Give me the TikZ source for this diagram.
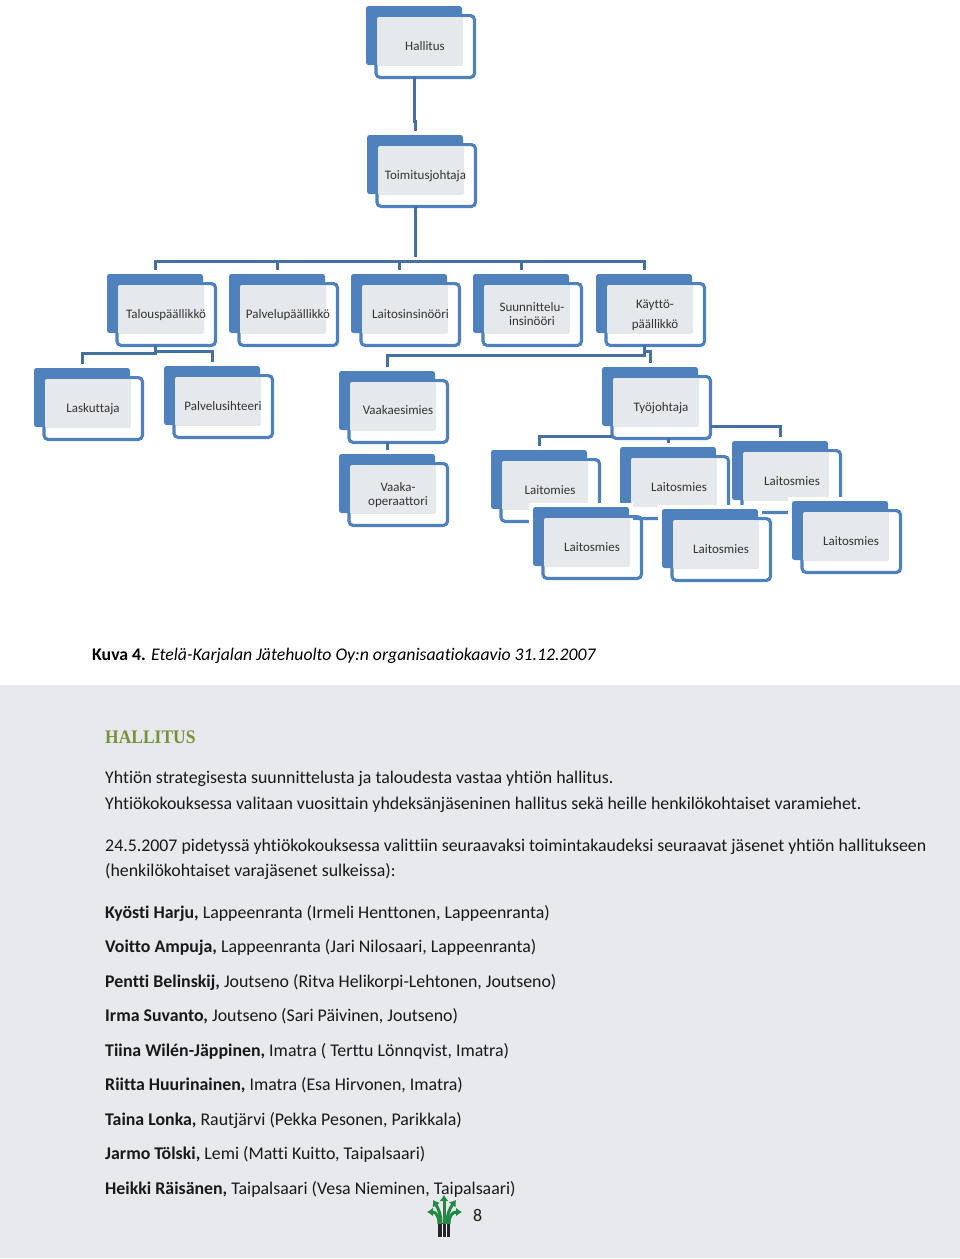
\documentclass[tikz,border=0pt]{standalone}
\usepackage{fontspec}
\setmainfont[Ligatures=NoCommon]{Carlito}
\newfontfamily\headfont[FakeStretch=0.91]{Liberation Serif}
\definecolor{boxblue}{HTML}{4F81BD}
\definecolor{linkblue}{HTML}{44719F}
\definecolor{boxgrey}{HTML}{E6E9EC}
\definecolor{bandgrey}{HTML}{E7E9EC}
\definecolor{headgreen}{HTML}{76923C}
\definecolor{logogreen}{HTML}{1E8A45}
\tikzset{
  boxback/.style={fill=boxblue, rounded corners=2.5pt, minimum width=96pt, minimum height=59pt, inner sep=0pt, outer sep=0pt},
  boxhalo/.style={fill=white, minimum width=104pt, minimum height=67pt, inner sep=0pt},
  boxfront/.style={draw=boxblue, line width=3.2pt, rounded corners=4pt, minimum width=98.4pt, minimum height=61.8pt, inner sep=0pt, outer sep=0pt},
  boxgray/.style={fill=boxgrey, rounded corners=2pt, minimum width=86pt, minimum height=49pt, inner sep=0pt},
  boxlabel/.style={text=black!80, font=\fontsize{13}{14}\selectfont, align=center, inner sep=0pt},
  orgline/.style={draw=linkblue, line width=3pt, shorten >=4pt},
  bodytext/.style={anchor=base west, inner sep=0pt, text=black!90, font=\fontsize{17.85}{21}\selectfont},
  logoarrow/.style={draw=logogreen, line width=3pt, -{Latex[length=6pt,width=9pt]}},
}
\usetikzlibrary{arrows.meta}
\newcommand{\orgbox}[6]{%
  \node[boxback] (#1back) at (#2+48,#3+29.5) {};
  \node[boxfront] (#1) at (#2+59.25,#3+40.5) {};
  \node[boxgray] (#1gray) at (#2+54,#3+35.5) {};
  \node[boxlabel] (#1label) at (#4,#5) {#6};
}
\begin{document}
\begin{tikzpicture}[x=1pt,y=-1pt]
  \useasboundingbox (0,0) rectangle (960,1259);

  \fill[bandgrey] (0,685) rectangle (960,1258);

  % top of the chart
  \orgbox{hallitus}{366}{6}{425}{46.5}{Hallitus}
  \orgbox{toimitus}{367}{135}{425.5}{176}{Toimitusjohtaja}
  \orgbox{talous}{107}{274}{166}{315}{Talouspäällikkö}
  \orgbox{palvelu}{229}{274}{288}{315}{Palvelupäällikkö}
  \orgbox{laitos}{351}{274}{410.5}{314}{Laitosinsinööri}
  \orgbox{suunnittelu}{473}{274}{532}{314}{Suunnittelu-\\insinööri}
  \orgbox{kaytto}{596}{274}{655}{315}{Käyttö-\\[6pt]päällikkö}
  \orgbox{laskuttaja}{34}{368}{93}{409}{Laskuttaja}
  \orgbox{sihteeri}{164}{366}{223}{406}{Palvelusihteeri}
  \orgbox{vaaka}{339}{371}{398}{410.5}{Vaakaesimies}
  \orgbox{tyojohtaja}{602}{367}{661}{408}{Työjohtaja}
  \orgbox{operaattori}{339}{454}{398}{495}{Vaaka-\\operaattori}

  % the men, two overlapping rows
  \orgbox{miesA}{491}{450}{550}{490}{Laitomies}
  \orgbox{miesB}{620}{447}{679}{487}{Laitosmies}
  \orgbox{miesC}{732}{441}{792}{481}{Laitosmies}
  \node[boxhalo] at (533+48,507+29.5) {};
  \node[boxhalo] at (662+48,509+29.5) {};
  \node[boxhalo] at (792+48,501+29.5) {};
  \orgbox{miesD}{533}{507}{592}{547}{Laitosmies}
  \orgbox{miesE}{662}{509}{721}{549}{Laitosmies}
  \orgbox{miesF}{792}{501}{851}{541}{Laitosmies}

  % connectors
  \draw[orgline] (hallitusback |- hallitus.south) -- ++(0,44) -| (toimitusback.north);
  \draw[orgline] (toimitusback |- toimitus.south) -- ++(0,55) coordinate (busmain);
  \foreach \n in {talous,palvelu,laitos,suunnittelu,kaytto}
    \draw[orgline] (busmain) -| (\n back.north);
  \draw[orgline] (talousback |- talous.south) -- ++(0,8) -| (laskuttajaback.north);
  \draw[orgline] (talousback |- talous.south) -- ++(0,6) -| (sihteeriback.north);
  \draw[orgline] (kayttoback |- kaytto.south) -- ++(0,10) -| (vaakaback.north);
  \draw[orgline] (kayttoback |- kaytto.south) -- ++(0,6) -| (tyojohtajaback.north);
  \draw[orgline] (vaakaback |- vaaka.south) -- (operaattoriback.north);
  \draw[orgline] (tyojohtaja.south west) ++(0,-2) -| (miesAback.north);
  \draw[orgline] (miesBback |- tyojohtaja.south) -- (miesBback.north);
  \draw[orgline] (tyojohtaja.south east) ++(0,-12) -| (miesCback.north);

  % text under the chart
  \node[bodytext, text=black, font=\fontsize{17.75}{21}\selectfont] (caption) at (92,660) {\textbf{Kuva 4.} \textit{Etelä-Karjalan Jätehuolto Oy:n organisaatiokaavio 31.12.2007}};
  \node[bodytext, text=headgreen, font=\headfont\bfseries\fontsize{19.2}{24}\selectfont] (otsikko) at (105,743) {HALLITUS};
  \node[bodytext] (rivia) at (105,783) {Yhtiön strategisesta suunnittelusta ja taloudesta vastaa yhtiön hallitus.};
  \node[bodytext] (rivib) at (105,809) {Yhtiökokouksessa valitaan vuosittain yhdeksänjäseninen hallitus sekä heille henkilökohtaiset varamiehet.};
  \node[bodytext] (rivic) at (105,851.5) {24.5.2007 pidetyssä yhtiökokouksessa valittiin seuraavaksi toimintakaudeksi seuraavat jäsenet yhtiön hallitukseen};
  \node[bodytext] (rivid) at (105,876) {(henkilökohtaiset varajäsenet sulkeissa):};
  \node[bodytext] (jasen1) at (105,918) {\textbf{Kyösti Harju,} Lappeenranta (Irmeli Henttonen, Lappeenranta)};
  \node[bodytext] (jasen2) at (105,952.5) {\textbf{Voitto Ampuja,} Lappeenranta (Jari Nilosaari, Lappeenranta)};
  \node[bodytext] (jasen3) at (105,987) {\textbf{Pentti Belinskij,} Joutseno (Ritva Helikorpi-Lehtonen, Joutseno)};
  \node[bodytext] (jasen4) at (105,1021.5) {\textbf{Irma Suvanto,} Joutseno (Sari Päivinen, Joutseno)};
  \node[bodytext] (jasen5) at (105,1056) {\textbf{Tiina Wilén-Jäppinen,} Imatra ( Terttu Lönnqvist, Imatra)};
  \node[bodytext] (jasen6) at (105,1090.5) {\textbf{Riitta Huurinainen,} Imatra (Esa Hirvonen, Imatra)};
  \node[bodytext] (jasen7) at (105,1125) {\textbf{Taina Lonka,} Rautjärvi (Pekka Pesonen, Parikkala)};
  \node[bodytext] (jasen8) at (105,1159.5) {\textbf{Jarmo Tölski,} Lemi (Matti Kuitto, Taipalsaari)};
  \node[bodytext] (jasen9) at (105,1194.5) {\textbf{Heikki Räisänen,} Taipalsaari (Vesa Nieminen, Taipalsaari)};
  \node[bodytext] (sivu) at (473,1221) {8};

  % logo
  \fill[black!85] (438,1223) rectangle (450,1237);
  \draw[white, line width=0.8pt] (442,1224) -- (442,1237) (446,1224) -- (446,1237);
  \draw[logoarrow] (444,1224) -- (444,1195);
  \draw[logoarrow] (441,1224) .. controls (441,1214) and (438,1208) .. (433,1200);
  \draw[logoarrow] (447,1224) .. controls (447,1214) and (450,1208) .. (456,1200);
  \draw[logoarrow] (439,1224) .. controls (439,1216) and (436,1212) .. (427,1212);
  \draw[logoarrow] (449,1224) .. controls (449,1216) and (452,1212) .. (462,1212);
\end{tikzpicture}
\end{document}
